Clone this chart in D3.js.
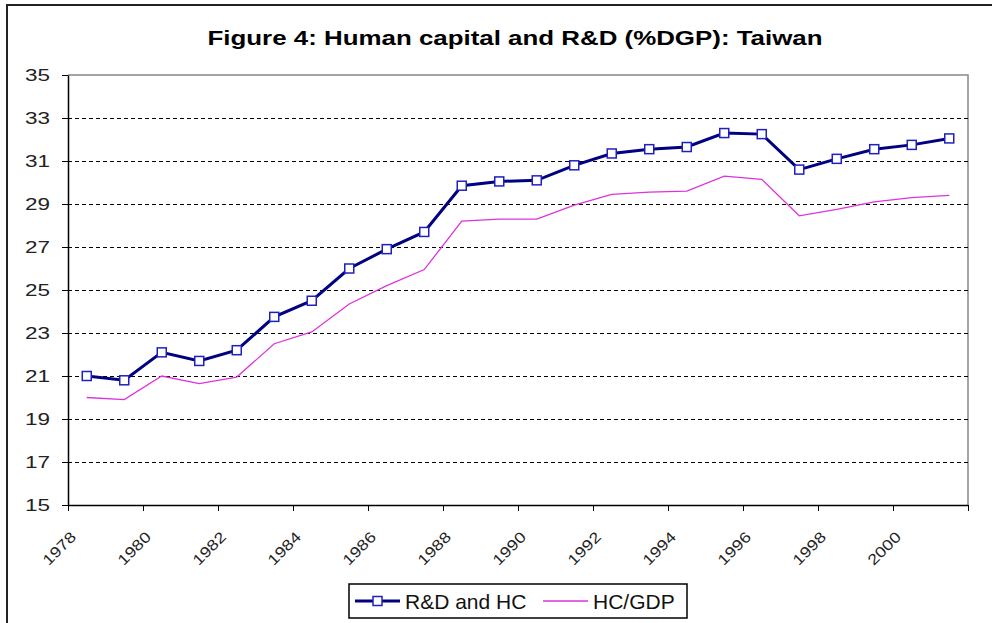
<!DOCTYPE html>
<html>
<head>
<meta charset="utf-8">
<script src="https://cdn.jsdelivr.net/npm/d3@7"></script>
<style>
  html, body { margin: 0; padding: 0; background: #fff; }
  #chart { width: 992px; height: 623px; }
  text { font-family: Arial, "Liberation Sans", sans-serif; }
</style>
</head>
<body>
<div id="chart"></div>
<script>
// data
const years = d3.range(1978, 2002);
const rdAndHc = [21.0, 20.8, 22.1, 21.7, 22.2, 23.75, 24.5, 26.0, 26.9, 27.7, 29.85, 30.05,
                 30.1, 30.8, 31.35, 31.55, 31.65, 32.3, 32.25, 30.6, 31.1, 31.55, 31.75, 32.05];
const hcGdp  = [20.0, 19.9, 21.0, 20.65, 20.95, 22.5, 23.05, 24.35, 25.2, 25.95, 28.2, 28.3,
                28.3, 28.95, 29.45, 29.55, 29.6, 30.3, 30.15, 28.45, 28.75, 29.1, 29.3, 29.4];
const yTicks = d3.range(15, 36, 2);
const xTickYears = d3.range(1978, 2003, 2);
const xLabelYears = d3.range(1978, 2001, 2);
const seriesNames = ["R&D and HC", "HC/GDP"];
const title = "Figure 4: Human capital and R&D (%DGP): Taiwan";

const W = 992, H = 623;
const plot = {left: 68, right: 968, top: 75, bottom: 505};

const svg = d3.select("#chart").append("svg")
  .attr("width", W)
  .attr("height", H);

svg.append("rect").attr("width", W).attr("height", H).attr("fill", "#fff");

// outer chart frame (runs off the bottom/right of the picture)
svg.append("rect")
  .attr("x", 7).attr("y", 5)
  .attr("width", W).attr("height", H + 10)
  .attr("fill", "none")
  .attr("stroke", "#222")
  .attr("stroke-width", 2);

// scales: category edges on a linear scale, points at the middle of each year
const x = d3.scaleLinear().domain([1978, 2002]).range([plot.left, plot.right]);
const y = d3.scaleLinear().domain([15, 35]).range([plot.bottom, plot.top]);
const px = yr => x(yr + 0.5);

// title
svg.append("text")
  .attr("x", 515)
  .attr("y", 45)
  .attr("text-anchor", "middle")
  .style("font-size", "21px")
  .style("font-weight", "bold")
  .attr("textLength", 615)
  .attr("lengthAdjust", "spacingAndGlyphs")
  .text(title);

// plot area border (grey top/right)
svg.append("path")
  .attr("d", `M${plot.left},${plot.top}H${plot.right}V${plot.bottom}`)
  .attr("fill", "none")
  .attr("stroke", "#888")
  .attr("stroke-width", 1.5);

// dashed gridlines
svg.append("g")
  .selectAll("line")
  .data(yTicks.filter(t => t > 15 && t < 35))
  .enter().append("line")
    .attr("x1", plot.left).attr("x2", plot.right)
    .attr("y1", d => y(d) + 0.5).attr("y2", d => y(d) + 0.5)
    .attr("stroke", "#000")
    .attr("stroke-width", 1)
    .attr("stroke-dasharray", "4,3");

// y axis
const yAxis = svg.append("g")
  .attr("transform", `translate(${plot.left},0)`)
  .call(d3.axisLeft(y).tickValues(yTicks).tickSize(6).tickSizeOuter(0).tickPadding(12));
yAxis.select(".domain").attr("stroke", "#000").attr("stroke-width", 1.5);
yAxis.selectAll(".tick line").attr("stroke", "#000");
yAxis.selectAll(".tick text")
  .style("font-size", "16px")
  .attr("fill", "#222")
  .attr("textLength", 25)
  .attr("lengthAdjust", "spacingAndGlyphs");

// x axis: tick marks on every second category edge, labels rotated
const xAxis = svg.append("g")
  .attr("transform", `translate(0,${plot.bottom})`)
  .call(d3.axisBottom(x).tickValues(xTickYears).tickSize(6).tickSizeOuter(0).tickFormat(""));
xAxis.select(".domain").attr("stroke", "#000").attr("stroke-width", 1.5);
xAxis.selectAll(".tick line").attr("stroke", "#000");

svg.append("g")
  .selectAll("text")
  .data(xLabelYears)
  .enter().append("text")
    .attr("transform", d => `translate(${x(d) + 9},${plot.bottom + 33}) rotate(-45)`)
    .attr("text-anchor", "end")
    .attr("fill", "#222")
    .style("font-size", "15px")
    .attr("textLength", 40)
    .attr("lengthAdjust", "spacingAndGlyphs")
    .text(d => d);

// lines
const line = d3.line().x((d, i) => px(years[i])).y(d => y(d));

svg.append("path")
  .datum(hcGdp)
  .attr("d", line)
  .attr("fill", "none")
  .attr("stroke", "#dd33dd")
  .attr("stroke-width", 1.3);

svg.append("path")
  .datum(rdAndHc)
  .attr("d", line)
  .attr("fill", "none")
  .attr("stroke", "#000080")
  .attr("stroke-width", 3);

// hollow square markers
svg.append("g")
  .selectAll("rect")
  .data(rdAndHc)
  .enter().append("rect")
    .attr("x", (d, i) => px(years[i]) - 4.5)
    .attr("y", d => y(d) - 4.5)
    .attr("width", 9).attr("height", 9)
    .attr("fill", "#fff")
    .attr("stroke", "#2020c0")
    .attr("stroke-width", 1.5);

// legend
const lg = svg.append("g").attr("transform", "translate(349,584)");
lg.append("rect")
  .attr("width", 338).attr("height", 34)
  .attr("fill", "#fff")
  .attr("stroke", "#000")
  .attr("stroke-width", 1.5);

const items = [
  {name: seriesNames[0], x: 6, color: "#000080", width: 3, marker: true},
  {name: seriesNames[1], x: 194, color: "#dd33dd", width: 1.3, marker: false}
];
const item = lg.selectAll("g.item")
  .data(items)
  .enter().append("g")
    .attr("class", "item")
    .attr("transform", d => `translate(${d.x},17)`);
item.append("line")
  .attr("x1", 0).attr("x2", 45)
  .attr("stroke", d => d.color)
  .attr("stroke-width", d => d.width);
item.filter(d => d.marker).append("rect")
  .attr("x", 18).attr("y", -4.5)
  .attr("width", 9).attr("height", 9)
  .attr("fill", "#fff")
  .attr("stroke", "#2020c0")
  .attr("stroke-width", 1.5);
item.append("text")
  .attr("x", 50)
  .attr("y", 7.5)
  .attr("fill", "#111")
  .style("font-size", "21px")
  .text(d => d.name);
</script>
</body>
</html>
